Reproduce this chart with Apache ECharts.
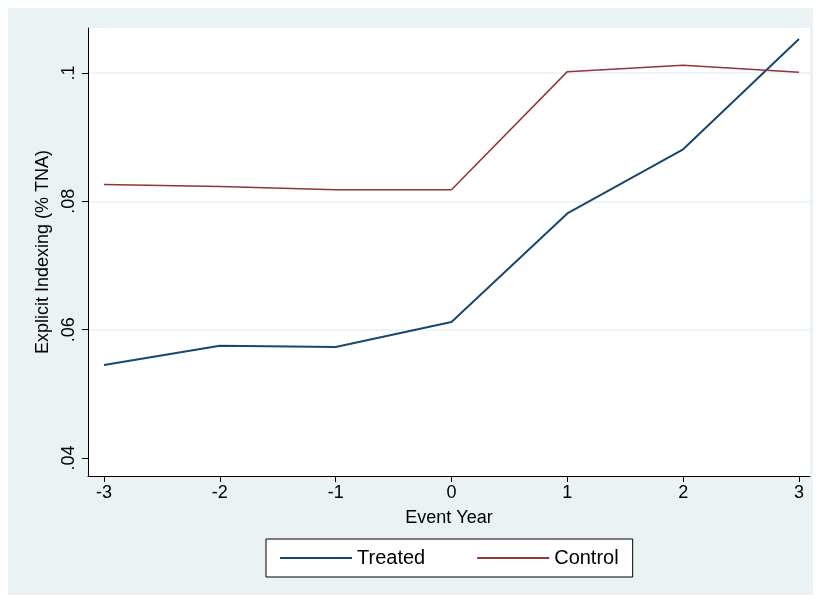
<!DOCTYPE html><html><head><meta charset="utf-8">
<script src="https://cdn.jsdelivr.net/npm/echarts@6/dist/echarts.min.js"></script>
<style>html,body{margin:0;padding:0;background:#fff}#c{width:821px;height:603px}</style></head><body><div id="c"></div>
<script>
const years=[-3,-2,-1,0,1,2,3];
const treated=[0.0545,0.0575,0.0573,0.0612,0.0781,0.0881,0.1053];
const control=[0.0826,0.0823,0.0818,0.0818,0.1002,0.1012,0.1001];
const yTicks=[0.04,0.06,0.08,0.1];
const yTickLabels=['.04','.06','.08','.1'];
const ch=echarts.init(document.getElementById('c'));
const F='Liberation Sans, Arial, sans-serif';
ch.setOption({
backgroundColor:'#fff',animation:false,
graphic:[{type:'rect',z:-10,silent:true,shape:{x:8,y:8,width:805,height:587},style:{fill:'#eaf2f3'}},
{type:'rect',z:-9,silent:true,shape:{x:88,y:28,width:722,height:448},style:{fill:'#fff'}}],
grid:{left:88,right:11,top:28,bottom:127},
legend:{bottom:26,left:266,itemWidth:72,itemHeight:2,itemGap:52,padding:[9,14],backgroundColor:'#fff',borderColor:'#000',borderWidth:1,borderRadius:0,
 textStyle:{fontFamily:F,fontSize:20,color:'#000'},icon:'rect',data:['Treated','Control']},
xAxis:{type:'value',min:-3.138,max:3.095,name:'Event Year',nameLocation:'middle',nameGap:33,nameTextStyle:{fontFamily:F,fontSize:18,color:'#000'},
 axisLine:{onZero:false,lineStyle:{color:'#000'}},splitLine:{show:false},
 axisTick:{show:true,length:6,lineStyle:{color:'#000'},customValues:years},
 axisLabel:{fontFamily:F,fontSize:18,color:'#000',customValues:years,formatter:v=>String(v)}},
yAxis:{type:'value',min:0.0372,max:0.107,name:'Explicit Indexing (% TNA)',nameLocation:'middle',nameGap:35,nameTextStyle:{fontFamily:F,fontSize:18,color:'#000'},
 axisLine:{show:true,onZero:false,lineStyle:{color:'#000'}},
 axisTick:{show:true,length:6,lineStyle:{color:'#000'},customValues:yTicks},
 axisLabel:{fontFamily:F,fontSize:18,color:'#000',rotate:90,margin:10,customValues:yTicks,formatter:v=>yTickLabels[yTicks.findIndex(t=>Math.abs(t-v)<1e-6)]},
 splitLine:{show:false}},
series:[
{name:'Treated',type:'line',symbol:'none',data:years.map((x,i)=>[x,treated[i]]),lineStyle:{color:'#1a476f',width:2},itemStyle:{color:'#1a476f'}},
{name:'Control',type:'line',symbol:'none',data:years.map((x,i)=>[x,control[i]]),lineStyle:{color:'#90353b',width:1.5},itemStyle:{color:'#90353b'},
 markLine:{silent:true,symbol:'none',label:{show:false},lineStyle:{color:'#eaf2f3',width:1.5,type:'solid'},z:-1,data:[{yAxis:0.06},{yAxis:0.08},{yAxis:0.1}]}}
]});
</script></body></html>
